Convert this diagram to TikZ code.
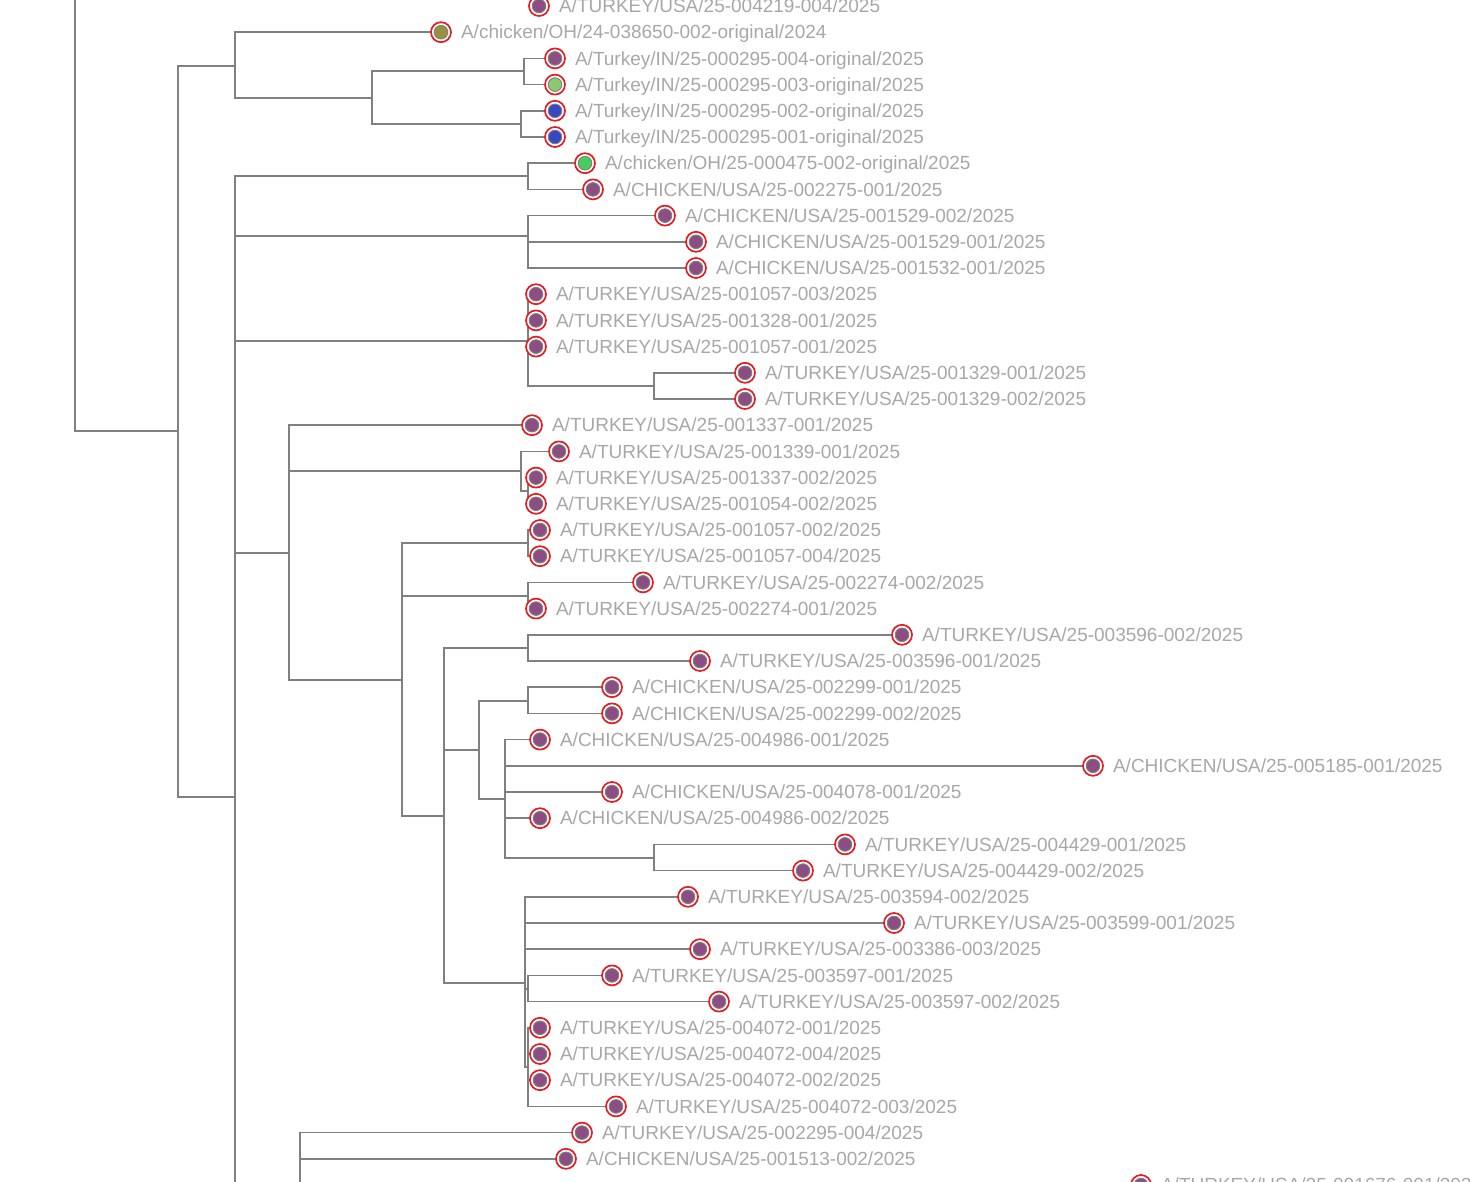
\documentclass[tikz,border=0pt]{standalone}
\usepackage{fontspec}
\setmainfont{Liberation Sans}
\usetikzlibrary{positioning,backgrounds}

\definecolor{branchgray}{RGB}{128,128,128}
\definecolor{labelgray}{RGB}{168,168,168}
\definecolor{ringred}{RGB}{226,30,36}
\definecolor{dotpurple}{RGB}{140,78,130}
\definecolor{dotolive}{RGB}{150,146,62}
\definecolor{dotlime}{RGB}{140,200,110}
\definecolor{dotblue}{RGB}{55,72,196}
\definecolor{dotgreen}{RGB}{72,205,92}

\tikzset{
  branch/.style={draw=branchgray, line width=1.6pt},
  tipdot/.style={circle, inner sep=0pt, minimum size=20pt, draw=ringred, line width=1.7pt, fill=white,
    path picture={\fill[#1, draw=gray, line width=0.9pt] (path picture bounding box.center) circle (6.8pt);}},
  tipdot/.default=dotpurple,
  tiplabel/.style={inner sep=0pt, text=labelgray, text height=13.5pt, text depth=0pt,
    font=\fontsize{19pt}{23pt}\selectfont},
}

\begin{document}
\begin{tikzpicture}[x=1pt, y=-1pt]
  \useasboundingbox (0,0) rectangle (1470,1182);
  % tips, top group
  \node[tipdot] (l0) at (539,6) {};
  \node[tiplabel, right=9pt of l0] (t0) {A/TURKEY/USA/25-004219-004/2025};
  \node[tipdot=dotolive] (l1) at (441,32.2) {};
  \node[tiplabel, right=9pt of l1] (t1) {A/chicken/OH/24-038650-002-original/2024};
  \node[tipdot] (l2) at (555,58.4) {};
  \node[tiplabel, right=9pt of l2] (t2) {A/Turkey/IN/25-000295-004-original/2025};
  \node[tipdot=dotlime] (l3) at (555,84.6) {};
  \node[tiplabel, right=9pt of l3] (t3) {A/Turkey/IN/25-000295-003-original/2025};
  \node[tipdot=dotblue] (l4) at (555,110.8) {};
  \node[tiplabel, right=9pt of l4] (t4) {A/Turkey/IN/25-000295-002-original/2025};
  \node[tipdot=dotblue] (l5) at (555,137) {};
  \node[tiplabel, right=9pt of l5] (t5) {A/Turkey/IN/25-000295-001-original/2025};
  % tips, chicken group
  \node[tipdot=dotgreen] (l6) at (585,163.2) {};
  \node[tiplabel, right=9pt of l6] (t6) {A/chicken/OH/25-000475-002-original/2025};
  \node[tipdot] (l7) at (593,189.4) {};
  \node[tiplabel, right=9pt of l7] (t7) {A/CHICKEN/USA/25-002275-001/2025};
  \node[tipdot] (l8) at (665,215.6) {};
  \node[tiplabel, right=9pt of l8] (t8) {A/CHICKEN/USA/25-001529-002/2025};
  \node[tipdot] (l9) at (696,241.8) {};
  \node[tiplabel, right=9pt of l9] (t9) {A/CHICKEN/USA/25-001529-001/2025};
  \node[tipdot] (l10) at (696,268) {};
  \node[tiplabel, right=9pt of l10] (t10) {A/CHICKEN/USA/25-001532-001/2025};
  % tips, turkey group
  \node[tipdot] (l11) at (536,294.2) {};
  \node[tiplabel, right=9pt of l11] (t11) {A/TURKEY/USA/25-001057-003/2025};
  \node[tipdot] (l12) at (536,320.4) {};
  \node[tiplabel, right=9pt of l12] (t12) {A/TURKEY/USA/25-001328-001/2025};
  \node[tipdot] (l13) at (536,346.6) {};
  \node[tiplabel, right=9pt of l13] (t13) {A/TURKEY/USA/25-001057-001/2025};
  \node[tipdot] (l14) at (745,372.8) {};
  \node[tiplabel, right=9pt of l14] (t14) {A/TURKEY/USA/25-001329-001/2025};
  \node[tipdot] (l15) at (745,399) {};
  \node[tiplabel, right=9pt of l15] (t15) {A/TURKEY/USA/25-001329-002/2025};
  \node[tipdot] (l16) at (532,425.2) {};
  \node[tiplabel, right=9pt of l16] (t16) {A/TURKEY/USA/25-001337-001/2025};
  \node[tipdot] (l17) at (559,451.4) {};
  \node[tiplabel, right=9pt of l17] (t17) {A/TURKEY/USA/25-001339-001/2025};
  \node[tipdot] (l18) at (536,477.6) {};
  \node[tiplabel, right=9pt of l18] (t18) {A/TURKEY/USA/25-001337-002/2025};
  \node[tipdot] (l19) at (536,503.8) {};
  \node[tiplabel, right=9pt of l19] (t19) {A/TURKEY/USA/25-001054-002/2025};
  \node[tipdot] (l20) at (540,530) {};
  \node[tiplabel, right=9pt of l20] (t20) {A/TURKEY/USA/25-001057-002/2025};
  \node[tipdot] (l21) at (540,556.2) {};
  \node[tiplabel, right=9pt of l21] (t21) {A/TURKEY/USA/25-001057-004/2025};
  \node[tipdot] (l22) at (643,582.4) {};
  \node[tiplabel, right=9pt of l22] (t22) {A/TURKEY/USA/25-002274-002/2025};
  \node[tipdot] (l23) at (536,608.6) {};
  \node[tiplabel, right=9pt of l23] (t23) {A/TURKEY/USA/25-002274-001/2025};
  \node[tipdot] (l24) at (902,634.8) {};
  \node[tiplabel, right=9pt of l24] (t24) {A/TURKEY/USA/25-003596-002/2025};
  \node[tipdot] (l25) at (700,661) {};
  \node[tiplabel, right=9pt of l25] (t25) {A/TURKEY/USA/25-003596-001/2025};
  \node[tipdot] (l26) at (612,687.2) {};
  \node[tiplabel, right=9pt of l26] (t26) {A/CHICKEN/USA/25-002299-001/2025};
  \node[tipdot] (l27) at (612,713.4) {};
  \node[tiplabel, right=9pt of l27] (t27) {A/CHICKEN/USA/25-002299-002/2025};
  \node[tipdot] (l28) at (540,739.6) {};
  \node[tiplabel, right=9pt of l28] (t28) {A/CHICKEN/USA/25-004986-001/2025};
  \node[tipdot] (l29) at (1093,765.8) {};
  \node[tiplabel, right=9pt of l29] (t29) {A/CHICKEN/USA/25-005185-001/2025};
  \node[tipdot] (l30) at (612,792) {};
  \node[tiplabel, right=9pt of l30] (t30) {A/CHICKEN/USA/25-004078-001/2025};
  \node[tipdot] (l31) at (540,818.2) {};
  \node[tiplabel, right=9pt of l31] (t31) {A/CHICKEN/USA/25-004986-002/2025};
  \node[tipdot] (l32) at (845,844.4) {};
  \node[tiplabel, right=9pt of l32] (t32) {A/TURKEY/USA/25-004429-001/2025};
  \node[tipdot] (l33) at (803,870.6) {};
  \node[tiplabel, right=9pt of l33] (t33) {A/TURKEY/USA/25-004429-002/2025};
  \node[tipdot] (l34) at (688,896.8) {};
  \node[tiplabel, right=9pt of l34] (t34) {A/TURKEY/USA/25-003594-002/2025};
  \node[tipdot] (l35) at (894,923) {};
  \node[tiplabel, right=9pt of l35] (t35) {A/TURKEY/USA/25-003599-001/2025};
  \node[tipdot] (l36) at (700,949.2) {};
  \node[tiplabel, right=9pt of l36] (t36) {A/TURKEY/USA/25-003386-003/2025};
  \node[tipdot] (l37) at (612,975.4) {};
  \node[tiplabel, right=9pt of l37] (t37) {A/TURKEY/USA/25-003597-001/2025};
  \node[tipdot] (l38) at (719,1001.6) {};
  \node[tiplabel, right=9pt of l38] (t38) {A/TURKEY/USA/25-003597-002/2025};
  \node[tipdot] (l39) at (540,1027.8) {};
  \node[tiplabel, right=9pt of l39] (t39) {A/TURKEY/USA/25-004072-001/2025};
  \node[tipdot] (l40) at (540,1054) {};
  \node[tiplabel, right=9pt of l40] (t40) {A/TURKEY/USA/25-004072-004/2025};
  \node[tipdot] (l41) at (540,1080.2) {};
  \node[tiplabel, right=9pt of l41] (t41) {A/TURKEY/USA/25-004072-002/2025};
  \node[tipdot] (l42) at (616,1106.4) {};
  \node[tiplabel, right=9pt of l42] (t42) {A/TURKEY/USA/25-004072-003/2025};
  \node[tipdot] (l43) at (582,1132.6) {};
  \node[tiplabel, right=9pt of l43] (t43) {A/TURKEY/USA/25-002295-004/2025};
  \node[tipdot] (l44) at (566,1158.8) {};
  \node[tiplabel, right=9pt of l44] (t44) {A/CHICKEN/USA/25-001513-002/2025};
  \node[tipdot] (l45) at (1141,1185) {};
  \node[tiplabel, right=9pt of l45] (t45) {A/TURKEY/USA/25-001676-001/2025};

  % inner nodes of the tree
  \coordinate (top) at (75,-5);
  \coordinate (r0) at (178,431);
  \coordinate (u) at (235,66);
  \coordinate (v) at (372,98);
  \coordinate (a) at (524,71);
  \coordinate (b) at (521,124);
  \coordinate (w) at (235,797);
  \coordinate (c) at (528,176);
  \coordinate (d) at (528,236);
  \coordinate (e) at (528,341);
  \coordinate (h) at (654,386);
  \coordinate (f) at (289,553);
  \coordinate (i) at (521,471);
  \coordinate (k) at (528,491);
  \coordinate (j) at (402,680);
  \coordinate (m) at (528,543);
  \coordinate (n) at (528,596);
  \coordinate (o) at (444,816);
  \coordinate (p) at (528,648);
  \coordinate (q) at (479,750);
  \coordinate (s) at (528,701);
  \coordinate (t) at (505,799);
  \coordinate (x) at (654,858);
  \coordinate (r) at (525,983);
  \coordinate (y) at (528,989);
  \coordinate (z) at (528,1067);
  \coordinate (g) at (300,1300);

  % branches, behind the tips
  \begin{scope}[on background layer]
    \fill[white] (0,0) rectangle (1470,1182);
    \draw[branch] (top) |- (r0);
    \draw[branch] (r0) |- (u);
    \draw[branch] (r0) |- (w);
    \draw[branch] (u) |- (l1.center);
    \draw[branch] (u) |- (v);
    \draw[branch] (v) |- (a);
    \draw[branch] (v) |- (b);
    \draw[branch] (a) |- (l2.center);
    \draw[branch] (a) |- (l3.center);
    \draw[branch] (b) |- (l4.center);
    \draw[branch] (b) |- (l5.center);
    \draw[branch] (w) |- (c);
    \draw[branch] (c) |- (l6.center);
    \draw[branch] (c) |- (l7.center);
    \draw[branch] (w) |- (d);
    \draw[branch] (d) |- (l8.center);
    \draw[branch] (d) |- (l9.center);
    \draw[branch] (d) |- (l10.center);
    \draw[branch] (w) |- (e);
    \draw[branch] (e) |- (l11.center);
    \draw[branch] (e) |- (l12.center);
    \draw[branch] (e) |- (l13.center);
    \draw[branch] (e) |- (h);
    \draw[branch] (h) |- (l14.center);
    \draw[branch] (h) |- (l15.center);
    \draw[branch] (w) |- (f);
    \draw[branch] (f) |- (l16.center);
    \draw[branch] (f) |- (i);
    \draw[branch] (i) |- (l17.center);
    \draw[branch] (i) |- (k);
    \draw[branch] (k) |- (l18.center);
    \draw[branch] (k) |- (l19.center);
    \draw[branch] (f) |- (j);
    \draw[branch] (j) |- (m);
    \draw[branch] (m) |- (l20.center);
    \draw[branch] (m) |- (l21.center);
    \draw[branch] (j) |- (n);
    \draw[branch] (n) |- (l22.center);
    \draw[branch] (n) |- (l23.center);
    \draw[branch] (j) |- (o);
    \draw[branch] (o) |- (p);
    \draw[branch] (p) |- (l24.center);
    \draw[branch] (p) |- (l25.center);
    \draw[branch] (o) |- (q);
    \draw[branch] (q) |- (s);
    \draw[branch] (s) |- (l26.center);
    \draw[branch] (s) |- (l27.center);
    \draw[branch] (q) |- (t);
    \draw[branch] (t) |- (l28.center);
    \draw[branch] (t) |- (l29.center);
    \draw[branch] (t) |- (l30.center);
    \draw[branch] (t) |- (l31.center);
    \draw[branch] (t) |- (x);
    \draw[branch] (x) |- (l32.center);
    \draw[branch] (x) |- (l33.center);
    \draw[branch] (o) |- (r);
    \draw[branch] (r) |- (l34.center);
    \draw[branch] (r) |- (l35.center);
    \draw[branch] (r) |- (l36.center);
    \draw[branch] (r) |- (y);
    \draw[branch] (y) |- (l37.center);
    \draw[branch] (y) |- (l38.center);
    \draw[branch] (r) |- (z);
    \draw[branch] (z) |- (l39.center);
    \draw[branch] (z) |- (l40.center);
    \draw[branch] (z) |- (l41.center);
    \draw[branch] (z) |- (l42.center);
    \draw[branch] (w) |- (g);
    \draw[branch] (g) |- (l43.center);
    \draw[branch] (g) |- (l44.center);
  \end{scope}
\end{tikzpicture}
\end{document}
